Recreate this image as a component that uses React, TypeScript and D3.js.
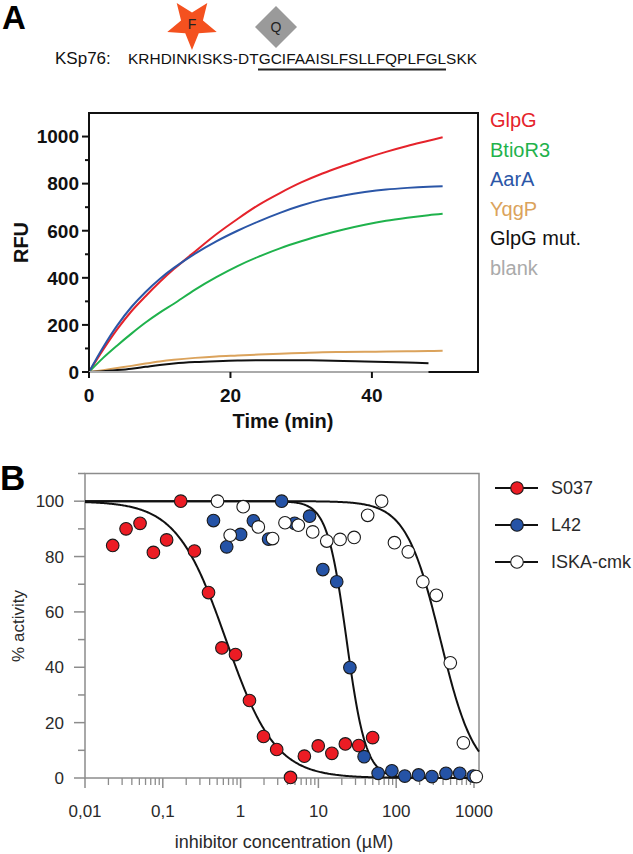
import React from 'react';
import * as d3 from 'd3';

// ---------- Panel A data (time course, RFU) ----------
const timeA = [0, 2, 4, 6, 8, 10, 12, 15, 18, 21, 24, 27, 30, 33, 36, 39, 42, 45, 48, 50];
const glpgA = [0, 95, 182, 258, 322, 382, 437, 512, 585, 650, 710, 760, 805, 843, 876, 907, 935, 960, 982, 997];
const btioR3A = [0, 60, 113, 163, 210, 252, 290, 350, 403, 450, 490, 525, 555, 582, 605, 625, 642, 655, 666, 672];
const aarAA = [0, 105, 198, 276, 340, 395, 442, 503, 555, 600, 640, 676, 707, 732, 750, 764, 775, 782, 787, 789];
const yqgPA = [0, 8, 17, 26, 36, 45, 52, 60, 66, 70, 74, 78, 81, 84, 85, 86, 87, 88, 89, 90];
const glpgMutA = [0, 3, 8, 14, 22, 30, 36, 42, 46, 49, 50, 50, 50, 49, 47, 45, 42, 40, 37];
const blankA = [0, 0, 0, 0, 0, 0, 0, 0, 0, 0, 0, 0, 0, 0, 0, 0, 0, 0, 0];
const legendA = ['GlpG', 'BtioR3', 'AarA', 'YqgP', 'GlpG mut.', 'blank'];
const colorsA = ['#e5232b', '#1fb24c', '#2b56a7', '#dba35c', '#111111', '#aaaaaa'];
const yTicksA = [0, 200, 400, 600, 800, 1000];
const yMinorA = [100, 300, 500, 700, 900];
const xTicksA = [0, 20, 40];

// ---------- Panel B data (dose response) ----------
const s037Conc = [0.0227, 0.0337, 0.051, 0.0757, 0.112, 0.17, 0.255, 0.387, 0.575, 0.86, 1.3, 1.97, 2.91, 4.38, 6.6, 9.95, 14.9, 22.2, 33, 49.8];
const s037Act = [84, 90, 92, 81.5, 86, 100, 82, 67, 47, 44.6, 28, 15, 10.3, 0.2, 7.9, 11.6, 8.9, 12.3, 11.7, 14.6];
const l42Conc = [0.448, 0.663, 1.0, 1.46, 2.29, 3.37, 4.95, 7.7, 11.4, 17.2, 25.4, 38.7, 58.6, 88, 129, 194, 288, 437, 656, 975];
const l42Act = [93, 83.5, 88, 92.9, 86.3, 100, 92, 94.6, 75.3, 70.9, 39.9, 7.7, 1.7, 2.6, 0.7, 1.1, 0.5, 1.7, 1.7, 0.7];
const iskaConc = [0.505, 0.735, 1.08, 1.69, 2.58, 3.72, 5.52, 8.45, 12.8, 19, 28.8, 43, 65, 95, 143, 220, 328, 496, 730, 1070];
const iskaAct = [100, 87.7, 98, 90.7, 86.5, 92.2, 91.3, 88.9, 85.6, 86.2, 86.9, 94.9, 100, 85, 81.7, 70.9, 66, 41.6, 12.7, 0.5];
// fitted dose-response parameters (IC50 µM, Hill slope)
const fitIC50 = [0.648, 23, 370];
const fitHill = [1.37, 3.5, 1.97];
const legendB = ['S037', 'L42', 'ISKA-cmk'];
const fillsB = ['#ec1c24', '#2553a6', '#ffffff'];
const xTicksB = [0.01, 0.1, 1, 10, 100, 1000];
const xTickLabelsB = ['0,01', '0,1', '1', '10', '100', '1000'];
const yTicksB = [0, 20, 40, 60, 80, 100];
const yMinorB = [10, 30, 50, 70, 90, 110];

const FONT = '"Liberation Sans", Arial, Helvetica, sans-serif';

export default function App() {
  // Panel A scales
  const xA = d3.scaleLinear().domain([0, 55]).range([89, 478]);
  const yA = d3.scaleLinear().domain([0, 1100]).range([372, 113]);
  const lineA = (vals: number[]) =>
    d3.line<number>().x((_, i) => xA(timeA[i])).y((d) => yA(d)).curve(d3.curveCatmullRom.alpha(0.5))(vals) || '';
  const seriesA = [glpgA, btioR3A, aarAA, yqgPA, glpgMutA];

  // Panel B scales
  const xB = d3.scaleLog().domain([0.01, 1160]).range([85, 479]);
  const yB = d3.scaleLinear().domain([0, 110]).range([778, 473.5]);
  const minorB: number[] = [];
  for (let e = -2; e <= 3; e++) {
    for (let m = 2; m <= 9; m++) {
      const v = m * Math.pow(10, e);
      if (v < 1160) minorB.push(v);
    }
  }
  const fitConc = d3.range(0, 401).map((i) => Math.pow(10, -2 + (i / 400) * Math.log10(116000)));
  const fitLine = (k: number) =>
    d3.line<number>().x((c) => xB(c)).y((c) => yB(100 / (1 + Math.pow(c / fitIC50[k], fitHill[k]))))(fitConc) || '';
  const seriesB = [
    [s037Conc, s037Act],
    [l42Conc, l42Act],
    [iskaConc, iskaAct],
  ];

  // star (inverted 5-point) for the F label
  const starC = [192, 24];
  const starPts = d3.range(10).map((i) => {
    const r = i % 2 === 0 ? 26 : 11.5;
    const a = Math.PI + (i * Math.PI) / 5;
    return [starC[0] + r * Math.sin(a), starC[1] - r * Math.cos(a)];
  });

  return (
    <svg width={633} height={854} style={{ position: 'absolute', left: 0, top: 0, background: '#fff' }} fontFamily={FONT}>
      <rect x={0} y={0} width={633} height={854} fill="#fff" />
      {/* ---------- Panel A header ---------- */}
      <text x={2} y={29} fontSize={33} fontWeight="bold">A</text>
      <polygon points={starPts.map((p) => p.join(',')).join(' ')} fill="#f4511f" />
      <text x={192} y={29} fontSize={14} textAnchor="middle" fill="#222">F</text>
      <polygon points="276,6 297,27 276,48 255,27" fill="#9a9a9a" />
      <text x={276} y={32} fontSize={14} textAnchor="middle" fill="#222">Q</text>
      <text x={55} y={64} fontSize={17} fill="#111">KSp76:</text>
      <text x={128} y={64} fontSize={15.4} fill="#111" textLength={349} lengthAdjust="spacing">KRHDINKISKS-DTGCIFAAISLFSLLFQPLFGLSKK</text>
      <line x1={258} x2={446} y1={69.5} y2={69.5} stroke="#222" strokeWidth={2} />

      {/* ---------- Panel A plot ---------- */}
      <g>
        {seriesA.map((vals, i) => (
          <path key={i} d={lineA(vals)} fill="none" stroke={colorsA[i]} strokeWidth={2} />
        ))}
        <rect x={89} y={113} width={389} height={259} fill="none" stroke="#111" strokeWidth={2} />
        <path d={lineA(blankA)} fill="none" stroke={colorsA[5]} strokeWidth={2.2} />
        {yTicksA.map((t) => (
          <g key={t}>
            <line x1={82} x2={89} y1={yA(t)} y2={yA(t)} stroke="#111" strokeWidth={2} />
            <text x={79} y={yA(t)} dy="0.36em" fontSize={19} fontWeight="bold" textAnchor="end" fill="#111">{t}</text>
          </g>
        ))}
        {yMinorA.map((t) => (
          <line key={t} x1={85} x2={89} y1={yA(t)} y2={yA(t)} stroke="#111" strokeWidth={2} />
        ))}
        {xTicksA.map((t) => (
          <g key={t}>
            <line x1={xA(t)} x2={xA(t)} y1={372} y2={378} stroke="#111" strokeWidth={2} />
            <text x={xA(t)} y={402} fontSize={19} fontWeight="bold" textAnchor="middle" fill="#111">{t}</text>
          </g>
        ))}
        <text x={283} y={428} fontSize={20} fontWeight="bold" textAnchor="middle" fill="#111">Time (min)</text>
        <text transform="translate(28,242.5) rotate(-90)" fontSize={20} fontWeight="bold" textAnchor="middle" fill="#111">RFU</text>
        {legendA.map((name, i) => (
          <text key={name} x={490} y={127 + i * 29.6} fontSize={20} fill={colorsA[i]}>{name}</text>
        ))}
      </g>

      {/* ---------- Panel B ---------- */}
      <text x={0} y={490} fontSize={35} fontWeight="bold">B</text>
      <g>
        <rect x={85} y={473.5} width={394} height={304.5} fill="none" stroke="#8c8c8c" strokeWidth={1.5} />
        {yTicksB.map((t) => (
          <g key={t}>
            <line x1={74} x2={85} y1={yB(t)} y2={yB(t)} stroke="#8c8c8c" strokeWidth={1.5} />
            <text x={64} y={yB(t)} dy="0.36em" fontSize={17} textAnchor="end" fill="#2a2a2a">{t}</text>
          </g>
        ))}
        {yMinorB.map((t) => (
          <line key={t} x1={78} x2={85} y1={yB(t)} y2={yB(t)} stroke="#8c8c8c" strokeWidth={1.5} />
        ))}
        {xTicksB.map((t, i) => (
          <g key={t}>
            <line x1={xB(t)} x2={xB(t)} y1={778} y2={788} stroke="#8c8c8c" strokeWidth={1.5} />
            <text x={xB(t)} y={817} fontSize={17} textAnchor="middle" fill="#2a2a2a">{xTickLabelsB[i]}</text>
          </g>
        ))}
        {minorB.map((t) => (
          <line key={t} x1={xB(t)} x2={xB(t)} y1={778} y2={785} stroke="#8c8c8c" strokeWidth={1.3} />
        ))}
        {[0, 1, 2].map((k) => (
          <path key={k} d={fitLine(k)} fill="none" stroke="#111" strokeWidth={2} />
        ))}
        {seriesB.map(([cs, vs], k) => (
          <g key={k}>
            {cs.map((c, i) => (
              <circle key={i} cx={xB(c)} cy={yB(vs[i])} r={6.3} fill={fillsB[k]} stroke="#1a1a1a" strokeWidth={1.1} />
            ))}
          </g>
        ))}
        <text x={284} y={848} fontSize={18} textAnchor="middle" fill="#2a2a2a">inhibitor concentration (µM)</text>
        <text transform="translate(24,626) rotate(-90)" fontSize={17} textAnchor="middle" fill="#2a2a2a">% activity</text>
        {legendB.map((name, k) => (
          <g key={name}>
            <line x1={495} x2={538} y1={488 + k * 37} y2={488 + k * 37} stroke="#111" strokeWidth={2} />
            <circle cx={517} cy={488 + k * 37} r={6.3} fill={fillsB[k]} stroke="#1a1a1a" strokeWidth={1.1} />
            <text x={551} y={488 + k * 37} dy="0.36em" fontSize={18} fill="#2a2a2a">{name}</text>
          </g>
        ))}
      </g>
    </svg>
  );
}
